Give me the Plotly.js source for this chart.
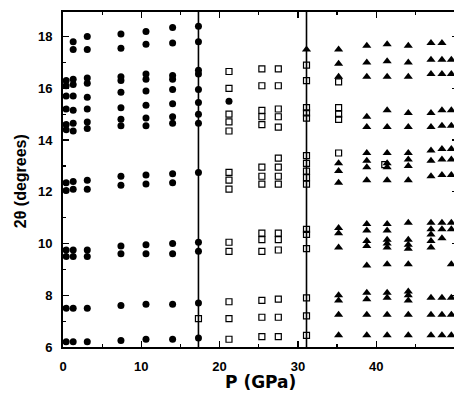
<!DOCTYPE html>
<html>
<head>
<meta charset="utf-8">
<script src="https://cdn.plot.ly/plotly-3.0.1.min.js"></script>
<style>
html,body{margin:0;padding:0;overflow:hidden;background:#fff;}
#chart{width:458px;height:396px;}
</style>
</head>
<body>
<div id="chart"></div>
<script>
// ---- data (P in GPa, 2-theta in degrees) ----
// Phase I: filled circles, one column of angles per pressure
const circleP = [0.4, 1.3, 3.1, 7.4, 10.6, 14.0, 17.3, 21.2];
const circleAngles = [
  [16.3, 16.1, 15.7, 15.2, 14.6, 14.4, 12.35, 12.05, 9.75, 9.5, 7.5, 6.2],
  [17.8, 17.5, 16.35, 16.15, 15.7, 15.15, 14.65, 14.35, 12.4, 12.1, 9.75, 9.5, 7.5, 6.2],
  [18.0, 17.5, 16.4, 16.2, 15.65, 15.2, 14.7, 14.45, 12.45, 12.1, 9.75, 9.5, 7.5, 6.2],
  [18.1, 17.55, 16.45, 16.3, 15.85, 15.25, 14.8, 14.55, 12.6, 12.25, 9.9, 9.6, 7.6, 6.25],
  [18.2, 17.7, 16.55, 16.35, 15.9, 15.35, 14.85, 14.55, 12.65, 12.3, 9.95, 9.6, 7.65, 6.3],
  [18.35, 17.75, 16.5, 16.35, 15.95, 15.4, 14.9, 14.65, 12.7, 12.35, 10.0, 9.6, 7.65, 6.3],
  [18.4, 17.8, 16.7, 16.55, 15.95, 15.45, 15.0, 14.65, 12.75, 10.05, 9.7, 7.7, 6.35],
  [15.5]
];
// Phase II: open squares
const squareP = [17.3, 21.2, 25.4, 27.5, 31.1, 35.2, 41.1];
const squareAngles = [
  [7.1],
  [16.65, 16.0, 15.0, 14.7, 14.35, 12.75, 12.45, 12.1, 10.05, 9.7, 7.75, 7.1, 6.3],
  [16.75, 16.1, 15.15, 14.9, 14.6, 12.95, 12.6, 12.3, 10.4, 10.15, 9.7, 7.8, 7.15, 6.4],
  [16.75, 16.1, 15.2, 14.9, 14.5, 13.3, 12.95, 12.6, 12.3, 10.4, 10.15, 9.75, 7.85, 7.15, 6.4],
  [16.9, 16.3, 15.25, 15.05, 14.85, 13.4, 13.1, 12.8, 12.55, 12.3, 10.55, 10.35, 9.8, 7.9, 7.2, 6.45],
  [16.25, 15.25, 15.0, 14.8, 13.5],
  [13.05]
];
// Phase III: filled triangles
const triangleP = [31.1, 35.2, 38.8, 41.4, 44.1, 47.0, 48.4, 49.6];
const triangleAngles = [
  [17.5],
  [17.5, 16.95, 16.45, 13.1, 12.8, 12.35, 10.6, 10.4, 9.85, 8.0, 7.8, 7.25, 6.45],
  [17.65, 17.0, 16.45, 14.9, 14.5, 13.5, 13.2, 12.95, 12.45, 10.75, 10.5, 10.1, 9.9, 9.15, 8.1, 7.85, 7.25, 6.45],
  [17.7, 17.05, 16.45, 15.15, 14.5, 13.5, 13.1, 12.95, 12.45, 10.75, 10.5, 10.15, 10.0, 9.85, 9.2, 8.1, 7.9, 7.25, 6.45],
  [17.65, 17.0, 16.45, 15.05, 14.5, 13.5, 13.25, 13.0, 12.45, 10.8, 10.15, 9.95, 9.8, 9.2, 8.15, 8.0, 7.8, 7.25, 6.45],
  [17.75, 17.1, 16.55, 15.05, 14.5, 13.6, 13.2, 12.6, 10.8, 10.55, 10.35, 10.1, 9.85, 7.9, 7.25, 6.45],
  [17.75, 17.1, 16.55, 15.15, 14.55, 13.65, 13.25, 12.65, 10.8, 10.55, 10.2, 7.9, 7.25, 6.45],
  [17.1, 16.55, 15.15, 14.55, 13.65, 13.25, 12.65, 10.8, 10.55, 9.2, 7.9, 7.25, 6.45]
];
// Phase boundaries (vertical lines)
const boundaryP = [17.3, 31.1];
// Axis ticks
const xTicks = [0, 10, 20, 30, 40];
const yTicks = [6, 8, 10, 12, 14, 16, 18];

function flatten(ps, angs) {
  const x = [], y = [];
  ps.forEach((p, i) => angs[i].forEach(a => { x.push(p); y.push(a); }));
  return {x, y};
}
const c = flatten(circleP, circleAngles);
const s = flatten(squareP, squareAngles);
const t = flatten(triangleP, triangleAngles);

const traces = [
  {x: c.x, y: c.y, type: 'scatter', mode: 'markers', cliponaxis: true,
   marker: {symbol: 'circle', size: 7, color: '#000'}},
  {x: s.x, y: s.y, type: 'scatter', mode: 'markers', cliponaxis: true,
   marker: {symbol: 'square-open', size: 6, color: '#000', line: {width: 1.2, color: '#000'}}},
  {x: t.x, y: t.y, type: 'scatter', mode: 'markers', cliponaxis: true,
   marker: {symbol: 'triangle-up', size: 8, color: '#000'}}
];

const tickFont = {family: 'Liberation Sans, Arial, sans-serif', size: 13, color: '#000', weight: 'bold'};

const layout = {
  width: 458, height: 396,
  margin: {l: 63, r: 0, t: 12, b: 49, pad: 0},
  paper_bgcolor: '#fff', plot_bgcolor: '#fff',
  showlegend: false,
  xaxis: {
    range: [0, 50.45], tickvals: xTicks, ticktext: xTicks.map(String),
    ticks: 'inside', ticklen: 6, tickwidth: 1.3, tickcolor: '#000',
    showline: true, linewidth: 2, linecolor: '#000', mirror: 'allticks',
    showgrid: false, zeroline: false, tickfont: tickFont, ticklabelstandoff: 6,
    minor: {dtick: 5, ticks: 'inside', ticklen: 3, tickwidth: 1.2, tickcolor: '#000', showgrid: false}
  },
  yaxis: {
    range: [6, 18.95], tickvals: yTicks, ticktext: yTicks.map(String),
    ticks: 'inside', ticklen: 6, tickwidth: 1.3, tickcolor: '#000',
    showline: true, linewidth: 2, linecolor: '#000', mirror: 'allticks',
    showgrid: false, zeroline: false, tickfont: tickFont, ticklabelstandoff: 6,
    minor: {dtick: 1, ticks: 'inside', ticklen: 3, tickwidth: 1.2, tickcolor: '#000', showgrid: false}
  },
  shapes: boundaryP.map(p => ({
    type: 'line', xref: 'x', yref: 'paper', x0: p, x1: p, y0: 0, y1: 1,
    line: {color: '#000', width: 1.6}, layer: 'below'
  })),
  annotations: [
    {text: 'P (GPa)', xref: 'paper', yref: 'paper', x: 0.5, y: 0, yshift: -35,
     xanchor: 'center', yanchor: 'middle', showarrow: false,
     font: {family: 'DejaVu Sans, sans-serif', size: 17, color: '#000', weight: 'bold'}},
    {text: '2θ (degrees)', xref: 'paper', yref: 'paper', x: 0, y: 0.495, xshift: -43,
     xanchor: 'center', yanchor: 'middle', textangle: -90, showarrow: false,
     font: {family: 'Liberation Sans, Arial, sans-serif', size: 16, color: '#000', weight: 'bold'}}
  ]
};

Plotly.newPlot('chart', traces, layout, {displayModeBar: false, staticPlot: true});
</script>
</body>
</html>
